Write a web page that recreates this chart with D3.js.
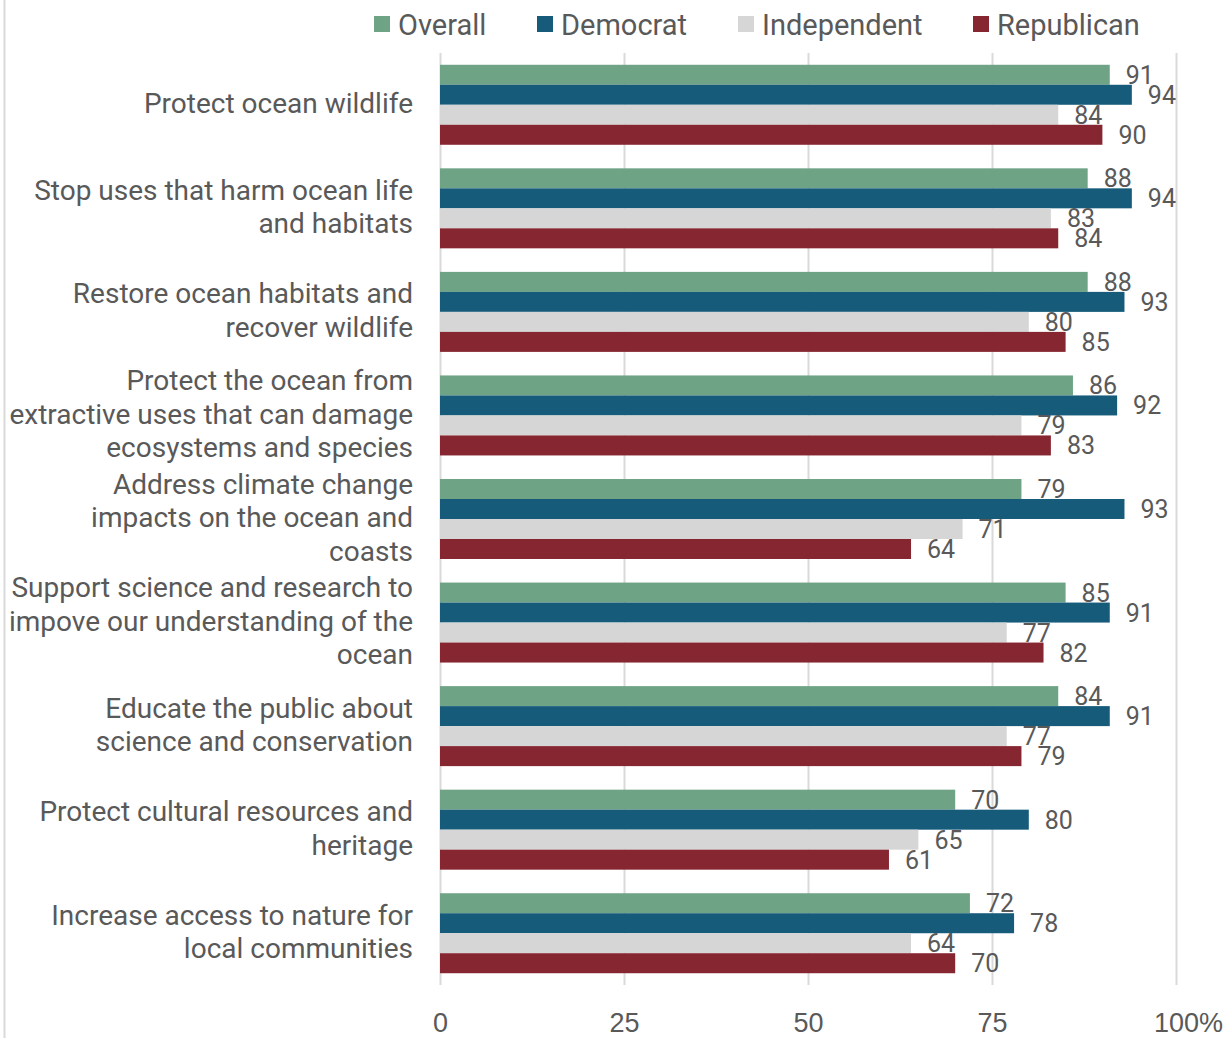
<!DOCTYPE html>
<html>
<head>
<meta charset="utf-8">
<script src="https://cdn.jsdelivr.net/npm/d3@7"></script>
<style>
  html, body { margin: 0; padding: 0; background: #fff; }
  svg { display: block; font-family: Roboto, "Noto Sans", sans-serif; }
</style>
</head>
<body>
<svg id="chart" width="1227" height="1038"></svg>
<script>
// Support for ocean priorities by party (percent)
const categories = [
  ["Protect ocean wildlife"],
  ["Stop uses that harm ocean life", "and habitats"],
  ["Restore ocean habitats and", "recover wildlife"],
  ["Protect the ocean from", "extractive uses that can damage", "ecosystems and species"],
  ["Address climate change", "impacts on the ocean and", "coasts"],
  ["Support science and research to", "impove our understanding of the", "ocean"],
  ["Educate the public about", "science and conservation"],
  ["Protect cultural resources and", "heritage"],
  ["Increase access to nature for", "local communities"]
];
const seriesNames = ["Overall", "Democrat", "Independent", "Republican"];
const overall     = [91, 88, 88, 86, 79, 85, 84, 70, 72];
const democrat    = [94, 94, 93, 92, 93, 91, 91, 80, 78];
const independent = [84, 83, 80, 79, 71, 77, 77, 65, 64];
const republican  = [90, 84, 85, 83, 64, 82, 79, 61, 70];
const tickValues = [0, 25, 50, 75, 100];
const tickLabels = ["0", "25", "50", "75", "100%"];

const seriesValues = [overall, democrat, independent, republican];
const colors = ["#6fa386", "#175b7b", "#d6d6d6", "#862631"];
const textColor = "#595959";
const gridColor = "#d9d9d9";

const svg = d3.select("#chart");

// frame edge on the left
svg.append("line")
  .attr("x1", 4.5).attr("x2", 4.5).attr("y1", 0).attr("y2", 1038)
  .attr("stroke", gridColor).attr("stroke-width", 2);

const plot = { left: 440, right: 1176, top: 53, bottom: 985 };

const x = d3.scaleLinear().domain([0, 100]).range([plot.left, plot.right]);
const y = d3.scaleBand().domain(d3.range(categories.length))
  .range([plot.top, plot.bottom]).paddingInner(0.2275).paddingOuter(0.1137);
const ySub = d3.scaleBand().domain(d3.range(seriesNames.length))
  .range([0, y.bandwidth()]);

// vertical gridlines and value axis
const xAxis = d3.axisBottom(x).tickValues(tickValues)
  .tickSize(-(plot.bottom - plot.top)).tickFormat((d, i) => tickLabels[i]);
const gx = svg.append("g").attr("transform", `translate(0,${plot.bottom})`).call(xAxis);
gx.select(".domain").remove();
gx.selectAll(".tick line").attr("stroke", gridColor).attr("stroke-width", 2);
gx.selectAll(".tick text")
  .attr("fill", textColor).attr("font-size", 27)
  .attr("y", 47).attr("dy", 0)
  .each(function() {
    // keep the number centred on its tick; a trailing "%" hangs to the right
    const t = d3.select(this);
    const full = t.text();
    const num = full.replace("%", "");
    if (num !== full) {
      const wFull = this.getComputedTextLength();
      t.text(num);
      const wNum = this.getComputedTextLength();
      t.text(full).attr("dx", (wFull - wNum) / 2);
    }
  });

// bars with value labels
const groups = svg.append("g").selectAll("g")
  .data(categories).join("g")
  .attr("transform", (d, i) => `translate(0,${y(i)})`);

seriesNames.forEach((name, s) => {
  groups.append("rect")
    .attr("x", x(0))
    .attr("y", ySub(s))
    .attr("width", (d, i) => x(seriesValues[s][i]) - x(0))
    .attr("height", ySub.bandwidth())
    .attr("fill", colors[s]);
  groups.append("text")
    .attr("x", (d, i) => x(seriesValues[s][i]) + 16)
    .attr("y", ySub(s) + ySub.bandwidth() / 2)
    .attr("dy", "0.36em")
    .attr("fill", textColor).attr("font-size", 25)
    .text((d, i) => seriesValues[s][i]);
});

// category labels
const lineH = 33.5;
groups.append("text")
  .attr("text-anchor", "end")
  .attr("fill", textColor).attr("font-size", 28)
  .each(function(lines) {
    const t = d3.select(this);
    const c = y.bandwidth() / 2 - 1.5;
    lines.forEach((ln, k) => {
      t.append("tspan")
        .attr("x", 413)
        .attr("y", c + (k - (lines.length - 1) / 2) * lineH)
        .attr("dy", "0.35em")
        .text(ln);
    });
  });

// legend
const legendX = [374, 537, 738, 973];
const legend = svg.append("g");
seriesNames.forEach((name, s) => {
  legend.append("rect")
    .attr("x", legendX[s]).attr("y", 16).attr("width", 16).attr("height", 16)
    .attr("fill", colors[s]);
  legend.append("text")
    .attr("x", legendX[s] + 24).attr("y", 24.5).attr("dy", "0.36em")
    .attr("fill", textColor).attr("font-size", 29)
    .text(name);
});
</script>
</body>
</html>
